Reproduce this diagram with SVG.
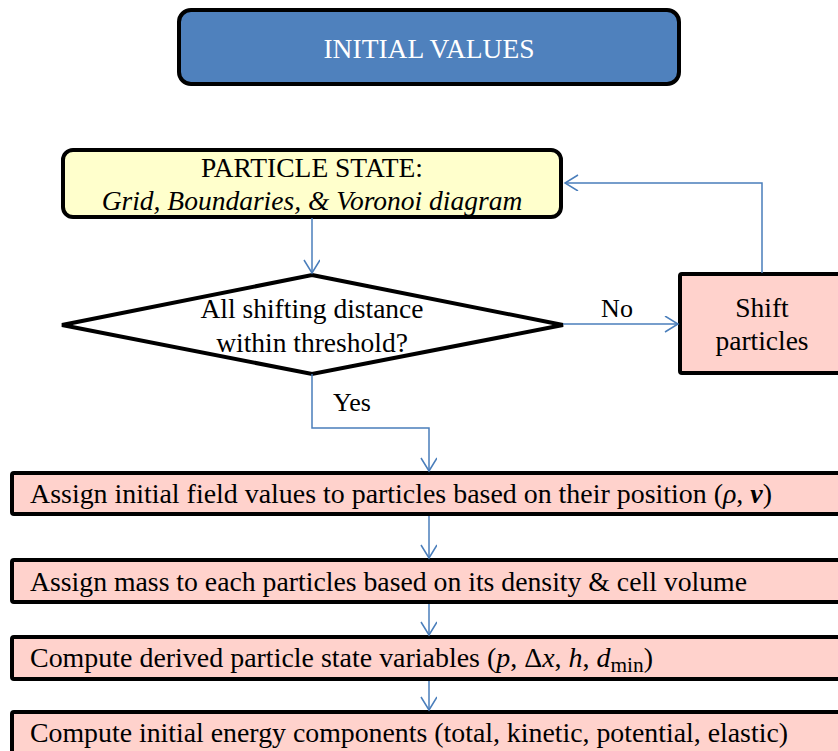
<svg xmlns="http://www.w3.org/2000/svg" width="838" height="751" viewBox="0 0 838 751">
<style>
text{font-family:"Liberation Serif","Times New Roman",serif;fill:#000}
.node{stroke:#000;stroke-width:4}
.pink{fill:#ffd2cc}
.t26{font-size:27.5px}
.lbl{font-size:26px}
.ctr{text-anchor:middle}
.conn{fill:none;stroke:#4a7ebb;stroke-width:1.5}
.mi{font-style:italic}
</style>
<defs>
<marker id="arr" markerWidth="20" markerHeight="20" refX="14" refY="8" orient="auto" markerUnits="userSpaceOnUse">
<path d="M1,0 L14,8 L1,16" fill="none" stroke="#4a7ebb" stroke-width="1.5"/>
</marker>
</defs>
<g id="initial-values">
<rect class="node" x="179" y="10" width="500" height="74" rx="12" fill="#4f81bd"/>
<text class="t26 ctr" x="429" y="58" style="fill:#fff">INITIAL VALUES</text>
</g>
<g id="particle-state">
<rect class="node" x="63" y="150" width="498" height="67" rx="10" fill="#ffffcc"/>
<text class="t26 ctr" x="312" y="177">PARTICLE STATE:</text>
<text class="t26 ctr mi" x="312" y="210">Grid, Boundaries, &amp; Voronoi diagram</text>
</g>
<g id="decision">
<polygon class="node" points="312,275 563,325 312,374 62,325" fill="#fff" stroke-linejoin="miter"/>
<text class="t26 ctr" x="312" y="318">All shifting distance</text>
<text class="t26 ctr" x="312" y="352">within threshold?</text>
</g>
<g id="shift-particles">
<rect class="node pink" x="680" y="274" width="170" height="99" rx="2"/>
<text class="t26 ctr" x="762" y="317">Shift</text>
<text class="t26 ctr" x="762" y="350">particles</text>
</g>
<g id="assign-field">
<rect class="node pink" x="12" y="473" width="840" height="41" rx="2"/>
<text class="t26" x="30" y="503" textLength="742" lengthAdjust="spacingAndGlyphs">Assign initial field values to particles based on their position (<tspan class="mi">ρ</tspan>, <tspan class="mi" font-weight="bold">v</tspan>)</text>
</g>
<g id="assign-mass">
<rect class="node pink" x="12" y="560" width="840" height="42" rx="2"/>
<text class="t26" x="30" y="591" textLength="717" lengthAdjust="spacingAndGlyphs">Assign mass to each particles based on its density &amp; cell volume</text>
</g>
<g id="derived">
<rect class="node pink" x="12" y="637" width="840" height="42" rx="2"/>
<text class="t26" x="30" y="667" textLength="623" lengthAdjust="spacingAndGlyphs">Compute derived particle state variables (<tspan class="mi">p</tspan>, Δ<tspan class="mi">x</tspan>, <tspan class="mi">h</tspan>, <tspan class="mi">d</tspan><tspan font-size="21" dy="5">min</tspan><tspan dy="-5">)</tspan></text>
</g>
<g id="energy">
<rect class="node pink" x="12" y="712" width="840" height="50" rx="2"/>
<text class="t26" x="30" y="742" textLength="758" lengthAdjust="spacingAndGlyphs">Compute initial energy components (total, kinetic, potential, elastic)</text>
</g>
<g id="connectors">
<path class="conn" d="M312,218 L312,273" marker-end="url(#arr)"/>
<path class="conn" d="M563,324 L678,324" marker-end="url(#arr)"/>
<path class="conn" d="M762,273 L762,183 L565,183" marker-end="url(#arr)"/>
<path class="conn" d="M312,374 L312,428 L429,428 L429,471" marker-end="url(#arr)"/>
<path class="conn" d="M429,516 L429,558" marker-end="url(#arr)"/>
<path class="conn" d="M429,604 L429,635" marker-end="url(#arr)"/>
<path class="conn" d="M429,681 L429,710" marker-end="url(#arr)"/>
<text class="lbl ctr" x="617" y="317">No</text>
<text class="lbl" x="333" y="411">Yes</text>
</g>
</svg>
